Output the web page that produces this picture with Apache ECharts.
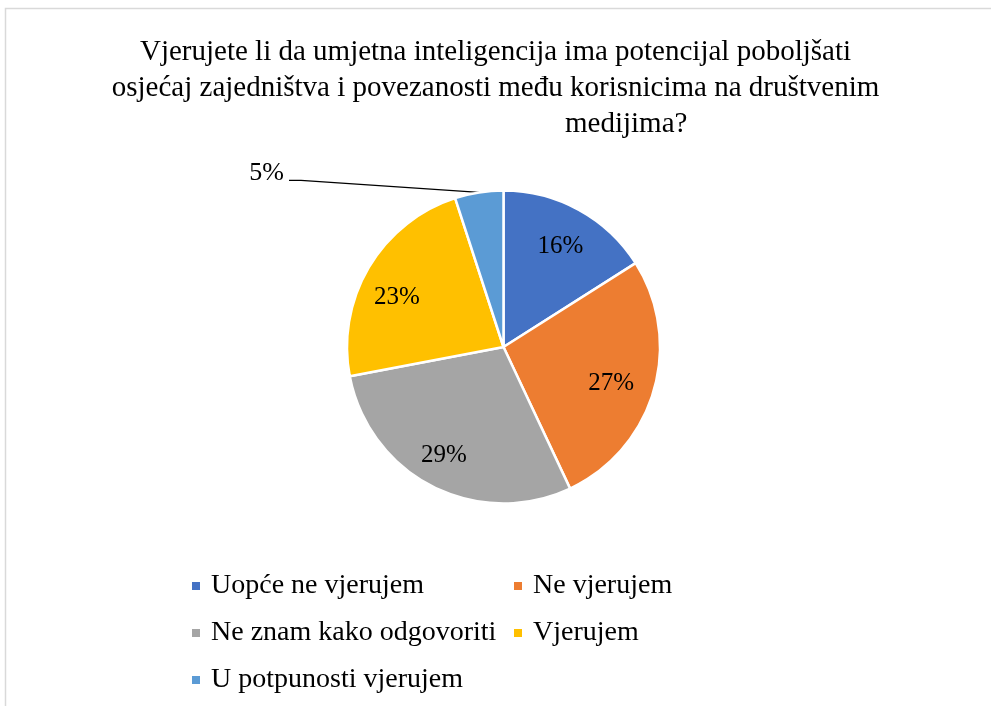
<!DOCTYPE html>
<html>
<head>
<meta charset="utf-8">
<script src="https://cdn.jsdelivr.net/npm/echarts@6/dist/echarts.min.js"></script>
<style>
html, body { margin: 0; padding: 0; background: #ffffff; }
#chart { width: 991px; height: 706px; }
</style>
</head>
<body>
<div id="chart"></div>
<script>
// Survey answers and their shares (%)
const categories = ['Uopće ne vjerujem', 'Ne vjerujem', 'Ne znam kako odgovoriti', 'Vjerujem', 'U potpunosti vjerujem'];
const shares = [16, 27, 29, 23, 5];
const sliceColors = ['#4472C4', '#ED7D31', '#A5A5A5', '#FFC000', '#5B9BD5'];

// Title lines
const titleLines = [
  'Vjerujete li da umjetna inteligencija ima potencijal poboljšati',
  'osjećaj zajedništva i povezanosti među korisnicima na društvenim',
  'medijima?'
];

// Legend columns
const legendColLeft = ['Uopće ne vjerujem', 'Ne znam kako odgovoriti', 'U potpunosti vjerujem'];
const legendColRight = ['Ne vjerujem', 'Vjerujem'];

const FONT = '"Liberation Serif", "Times New Roman", serif';
const CENTER = [503.5, 347];
const R = 156.5;
const OUTSIDE_LABEL_INDEX = 4;
// fine nudges of the inside percentage labels, per slice
const labelNudges = [[-1, 5], [-8, 3], [-5, 1], [-3, 12], [0, 0]];

const chart = echarts.init(document.getElementById('chart'), null, { renderer: 'canvas' });

const legendBase = {
  orient: 'vertical',
  icon: 'path://M0,0h1v1h-1z',
  itemWidth: 20,
  itemHeight: 8,
  itemGap: 19,
  itemStyle: { borderWidth: 0 },
  textStyle: { fontFamily: FONT, fontSize: 28, color: '#000' }
};

const titleStyle = { fontFamily: FONT, fontSize: 29, fontWeight: 'normal', color: '#000', lineHeight: 36 };

const option = {
  backgroundColor: '#ffffff',
  animation: false,
  title: [
    { text: titleLines[0] + '\n' + titleLines[1], left: 'center', top: 34, padding: 0, textStyle: titleStyle },
    { text: titleLines[2], left: 565, top: 106, padding: 0, textStyle: titleStyle }
  ],
  legend: [
    Object.assign({}, legendBase, { data: legendColLeft, left: 187, top: 567 }),
    Object.assign({}, legendBase, { data: legendColRight, left: 509, top: 567 })
  ],
  graphic: [
    {
      // chart area frame
      type: 'rect',
      silent: true,
      z: -10,
      shape: { x: 5.5, y: 8.5, width: 1200, height: 900 },
      style: { fill: 'none', stroke: '#d9d9d9', lineWidth: 1.5 }
    }
  ],
  series: [
    {
      // coloured slices
      type: 'pie',
      center: CENTER,
      radius: [0, R],
      startAngle: 90,
      clockwise: true,
      label: { show: false },
      labelLine: { show: false },
      emphasis: { disabled: true },
      itemStyle: { borderColor: '#ffffff', borderWidth: 2.5 },
      data: categories.map((name, i) => ({ name, value: shares[i], itemStyle: { color: sliceColors[i] } }))
    },
    {
      // transparent ring carrying the percentage labels
      type: 'pie',
      center: CENTER,
      radius: [R * 0.5, R],
      startAngle: 90,
      clockwise: true,
      silent: true,
      avoidLabelOverlap: false,
      emphasis: { disabled: true },
      itemStyle: { color: 'rgba(0,0,0,0)', borderWidth: 0 },
      label: {
        show: true,
        position: 'inside',
        formatter: '{c}%',
        fontFamily: FONT,
        fontSize: 25,
        color: '#000'
      },
      labelLine: { show: false },
      labelLayout: function (params) {
        if (params.dataIndex !== OUTSIDE_LABEL_INDEX || !params.labelLinePoints) return {};
        const p0 = params.labelLinePoints[0];
        const elbow = [p0[0] - 178, p0[1] - 12];
        const end = [p0[0] - 190, p0[1] - 12];
        return {
          x: end[0] - 5,
          y: end[1] - 7,
          align: 'right',
          verticalAlign: 'middle',
          labelLinePoints: [p0, elbow, end]
        };
      },
      data: categories.map((name, i) => {
        const item = { name, value: shares[i] };
        if (i === OUTSIDE_LABEL_INDEX) {
          item.label = { position: 'outside', fontSize: 26 };
          item.labelLine = { show: true, length: 10, length2: 10, lineStyle: { color: '#000', width: 1.3 } };
        } else {
          item.label = { offset: labelNudges[i] };
        }
        return item;
      })
    }
  ]
};

chart.setOption(option);
</script>
</body>
</html>
